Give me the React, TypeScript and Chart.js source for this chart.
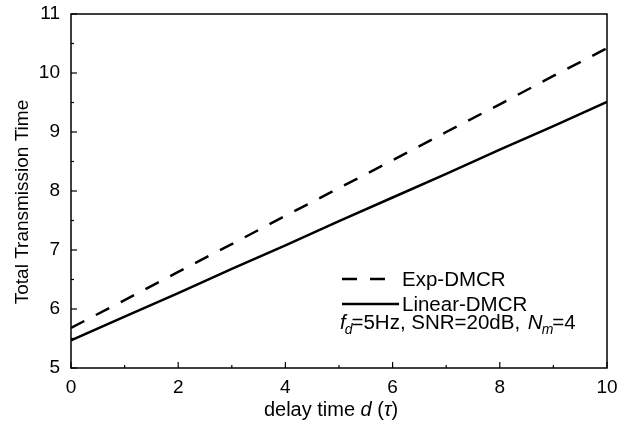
import React, { useEffect, useRef } from "react";
import { Chart, registerables } from "chart.js";

Chart.register(...registerables);

const delayTimes = [0, 1, 2, 3, 4, 5, 6, 7, 8, 9, 10];
const expDMCR = [5.68, 6.15, 6.63, 7.1, 7.58, 8.05, 8.52, 9.0, 9.47, 9.95, 10.42];
const linearDMCR = [5.47, 5.87, 6.27, 6.68, 7.08, 7.49, 7.89, 8.29, 8.7, 9.1, 9.51];
const xTicks = [0, 2, 4, 6, 8, 10];
const yTicks = [5, 6, 7, 8, 9, 10, 11];

const FONT = "'Liberation Sans', Arial, Helvetica, sans-serif";

const decorPlugin = {
  id: "decor",
  afterDraw(chart: any) {
    const ctx = chart.ctx;
    const { left, right, top, bottom } = chart.chartArea;
    const xs = chart.scales.x;
    const ys = chart.scales.y;
    ctx.save();
    ctx.strokeStyle = "#000";
    ctx.lineWidth = 1.5;
    ctx.strokeRect(left, top, right - left, bottom - top);
    // inward ticks
    ctx.lineWidth = 1.2;
    for (let v = 0; v <= 10; v += 1) {
      const px = xs.getPixelForValue(v);
      const len = v % 2 === 0 ? 6 : 3;
      ctx.beginPath();
      ctx.moveTo(px, bottom);
      ctx.lineTo(px, bottom - len);
      ctx.stroke();
    }
    for (let v = 5; v <= 11; v += 0.5) {
      const py = ys.getPixelForValue(v);
      const len = Number.isInteger(v) ? 6 : 3;
      ctx.beginPath();
      ctx.moveTo(left, py);
      ctx.lineTo(left + len, py);
      ctx.stroke();
    }
    // x axis title
    ctx.fillStyle = "#000";
    ctx.textBaseline = "middle";
    const XS = 20;
    const parts: [string, boolean][] = [
      ["delay time ", false],
      ["d", true],
      [" (", false],
      ["\u03C4", true],
      [")", false],
    ];
    let total = 0;
    const widths = parts.map(([t, it]) => {
      ctx.font = `${it ? "italic " : ""}${XS}px ${FONT}`;
      const w = ctx.measureText(t).width;
      total += w;
      return w;
    });
    let x = 331 - total / 2;
    ctx.textAlign = "left";
    parts.forEach(([t, it], i) => {
      ctx.font = `${it ? "italic " : ""}${XS}px ${FONT}`;
      ctx.fillText(t, x, 410);
      x += widths[i];
    });

    // y axis title
    ctx.save();
    ctx.translate(23, 202);
    ctx.rotate(-Math.PI / 2);
    ctx.textAlign = "center";
    ctx.font = `19px ${FONT}`;
    ctx.fillText("Total Transmission Time", 0, 0);
    ctx.restore();

    // legend
    ctx.lineWidth = 2.5;
    ctx.setLineDash([15, 13]);
    ctx.beginPath();
    ctx.moveTo(342, 279);
    ctx.lineTo(386, 279);
    ctx.stroke();
    ctx.setLineDash([]);
    ctx.beginPath();
    ctx.moveTo(342, 304);
    ctx.lineTo(399, 304);
    ctx.stroke();
    const LS = 20.5;
    ctx.font = `${LS}px ${FONT}`;
    ctx.textAlign = "left";
    ctx.fillText("Exp-DMCR", 402, 280);
    ctx.fillText("Linear-DMCR", 402, 305);

    // parameter line
    let lx = 340;
    const ly = 323;
    ctx.font = `italic ${LS}px ${FONT}`;
    ctx.fillText("f", lx, ly); lx += ctx.measureText("f").width;
    ctx.font = `italic 14px ${FONT}`;
    ctx.fillText("d", lx - 1, ly + 7); lx += ctx.measureText("d").width - 2;
    ctx.font = `${LS}px ${FONT}`;
    const mid = "=5Hz, SNR=20dB, ";
    ctx.fillText(mid, lx, ly); lx += ctx.measureText(mid).width + 2;
    ctx.font = `italic ${LS}px ${FONT}`;
    ctx.fillText("N", lx, ly); lx += ctx.measureText("N").width;
    ctx.font = `italic 14px ${FONT}`;
    ctx.fillText("m", lx - 1, ly + 7); lx += ctx.measureText("m").width - 2;
    ctx.font = `${LS}px ${FONT}`;
    ctx.fillText("=4", lx, ly);
    ctx.restore();
  },
};

export default function App() {
  const ref = useRef<HTMLCanvasElement | null>(null);
  useEffect(() => {
    document.body.style.margin = "0";
    const canvas = ref.current;
    if (!canvas) return;
    const chart = new Chart(canvas, {
      type: "line",
      data: {
        datasets: [
          {
            label: "Exp-DMCR",
            data: delayTimes.map((d, i) => ({ x: d, y: expDMCR[i] })),
            borderColor: "#000",
            borderWidth: 2.5,
            borderDash: [15, 13],
            pointRadius: 0,
            tension: 0,
          },
          {
            label: "Linear-DMCR",
            data: delayTimes.map((d, i) => ({ x: d, y: linearDMCR[i] })),
            borderColor: "#000",
            borderWidth: 2.5,
            pointRadius: 0,
            tension: 0,
          },
        ],
      },
      options: {
        responsive: false,
        animation: false,
        layout: { padding: { top: 14, right: 32, left: 0, bottom: 0 } },
        plugins: { legend: { display: false }, tooltip: { enabled: false } },
        scales: {
          x: {
            type: "linear",
            min: 0,
            max: 10,
            afterFit: (s: any) => { s.height = 58; s.paddingLeft = 0; s.paddingRight = 0; },
            afterBuildTicks: (s: any) => { s.ticks = xTicks.map((v) => ({ value: v })); },
            grid: { display: true, drawOnChartArea: false, drawTicks: false },
            border: { display: false },
            ticks: { color: "#000", font: { family: FONT, size: 19 }, padding: 8, maxRotation: 0 },
          },
          y: {
            type: "linear",
            min: 5,
            max: 11,
            afterFit: (s: any) => { s.width = 71; s.paddingTop = 0; s.paddingBottom = 0; },
            afterBuildTicks: (s: any) => { s.ticks = yTicks.map((v) => ({ value: v })); },
            grid: { display: true, drawOnChartArea: false, drawTicks: false },
            border: { display: false },
            ticks: { color: "#000", font: { family: FONT, size: 19 }, padding: 11 },
          },
        },
      },
      plugins: [decorPlugin],
    });
    return () => chart.destroy();
  }, []);
  return (
    <div style={{ width: 639, height: 426, background: "#fff" }}>
      <canvas ref={ref} width={639} height={426} style={{ display: "block" }} />
    </div>
  );
}
